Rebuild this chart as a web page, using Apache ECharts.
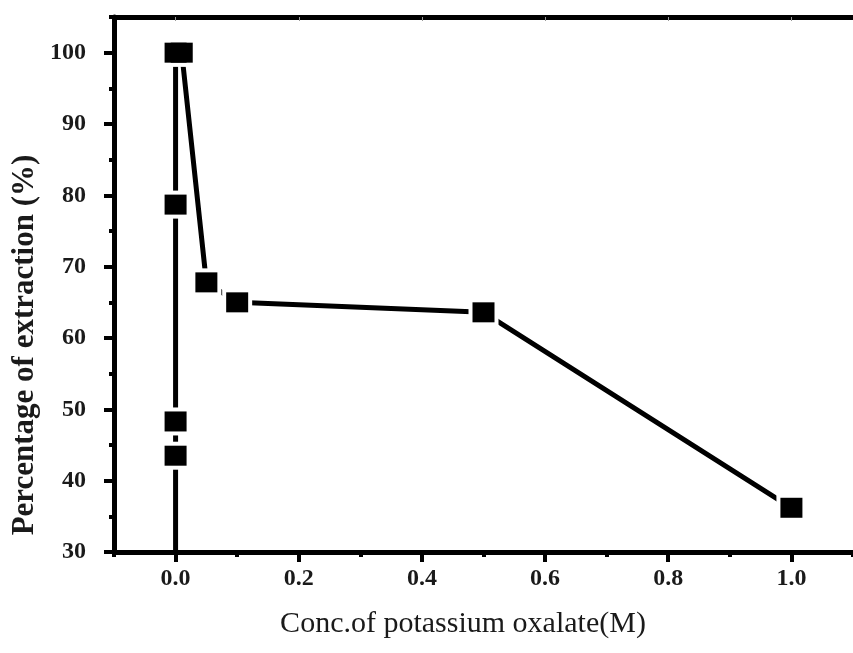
<!DOCTYPE html>
<html>
<head>
<meta charset="utf-8">
<script src="https://cdn.jsdelivr.net/npm/echarts@6/dist/echarts.min.js"></script>
<style>
  html, body { margin: 0; padding: 0; background: #fff; }
  #chart { width: 853px; height: 653px; }
</style>
</head>
<body>
<div id="chart"></div>
<script>
// concentration of potassium oxalate (M)
const concM = [0, 0, 0, 0, 0, 0.01, 0.05, 0.1, 0.5, 1.0]
// percentage of extraction (%), first value is off-scale (only its line reaches the axis)
const extraction = [20, 43.5, 48.3, 78.7, 100, 100, 67.8, 65.0, 63.6, 36.2]
const xTicks = [0, 0.2, 0.4, 0.6, 0.8, 1.0]
const yTicks = [30, 40, 50, 60, 70, 80, 90, 100]

const points = concM.map((c, i) => [c, extraction[i]])
const serif = '"Liberation Serif", "Times New Roman", serif'

const chart = echarts.init(document.getElementById('chart'))

const xBase = { type: 'value', min: -0.1, max: 1.1, interval: 0.1, splitLine: { show: false } }
const yBase = { type: 'value', min: 30, max: 105, splitLine: { show: false } }
const labelFont = { color: '#1a1a1a', fontFamily: serif, fontWeight: 'bold', fontSize: 24 }

chart.setOption({
    animation: false,
    backgroundColor: '#fff',
    grid: { left: 114, top: 17, width: 743, height: 535 },
    xAxis: [
        {
            ...xBase,
            position: 'bottom',
            axisLine: { onZero: false, lineStyle: { color: '#000', width: 5 } },
            axisTick: { customValues: xTicks, length: 10, lineStyle: { color: '#000', width: 4 } },
            axisLabel: { ...labelFont, customValues: xTicks, margin: 15, formatter: v => v.toFixed(1) }
        },
        {
            // short ticks every 0.1
            ...xBase,
            position: 'bottom',
            axisLine: { show: false, onZero: false },
            axisTick: { length: 5, lineStyle: { color: '#000', width: 4 } },
            axisLabel: { show: false }
        },
        {
            ...xBase,
            position: 'top',
            axisLine: { onZero: false, lineStyle: { color: '#000', width: 5 } },
            axisTick: { inside: true, customValues: xTicks, length: 4, lineStyle: { color: '#999', width: 1 } },
            axisLabel: { show: false }
        }
    ],
    yAxis: [
        {
            ...yBase,
            position: 'left',
            interval: 10,
            axisLine: { onZero: false, lineStyle: { color: '#000', width: 5 } },
            axisTick: { customValues: yTicks, length: 10, lineStyle: { color: '#000', width: 4 } },
            axisLabel: { ...labelFont, customValues: yTicks, margin: 28 }
        },
        {
            ...yBase,
            position: 'left',
            interval: 5,
            axisLine: { show: false, onZero: false },
            axisTick: { length: 5, lineStyle: { color: '#000', width: 4 } },
            axisLabel: { show: false }
        }
    ],
    graphic: [
        {
            type: 'text',
            x: 25,
            y: 345,
            rotation: Math.PI / 2,
            style: {
                text: 'Percentage of extraction (%)',
                font: 'bold 31px ' + serif,
                fill: '#1a1a1a',
                textAlign: 'center',
                textVerticalAlign: 'middle'
            }
        },
        {
            type: 'text',
            x: 463,
            y: 624,
            style: {
                text: 'Conc.of potassium oxalate(M)',
                font: '30px ' + serif,
                fill: '#1a1a1a',
                textAlign: 'center',
                textVerticalAlign: 'middle'
            }
        }
    ],
    series: [
        {
            type: 'line',
            data: points,
            symbol: 'none',
            clip: true,
            z: 2,
            lineStyle: { color: '#000', width: 5 }
        },
        {
            // white halo so the line stops short of each marker
            type: 'scatter',
            data: points,
            symbol: 'rect',
            symbolSize: [30, 28],
            clip: true,
            silent: true,
            z: 3,
            itemStyle: { color: '#fff', opacity: 1 }
        },
        {
            type: 'scatter',
            data: points,
            symbol: 'rect',
            symbolSize: [22, 20],
            clip: true,
            z: 4,
            itemStyle: { color: '#000', opacity: 1 }
        }
    ]
})
</script>
</body>
</html>
